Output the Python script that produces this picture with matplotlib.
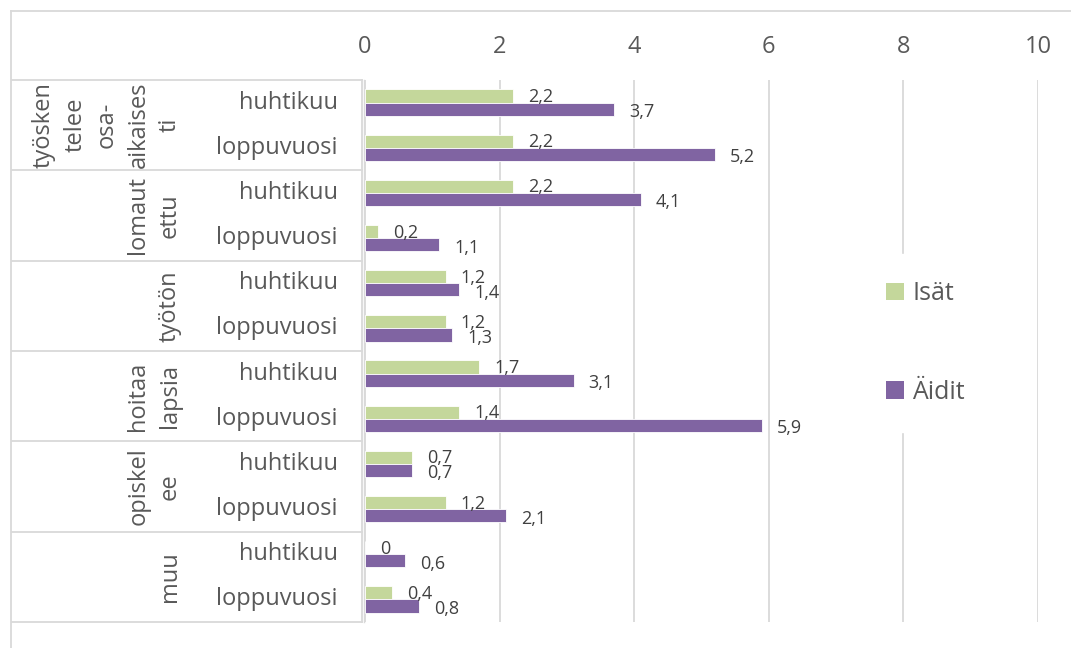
import matplotlib
matplotlib.use("Agg")
import matplotlib.pyplot as plt
from matplotlib.lines import Line2D
from matplotlib.patches import Patch
from matplotlib.transforms import blended_transform_factory

# data
groups = ["työsken\ntelee\nosa-\naikaises\nti", "lomaut\nettu", "työtön",
          "hoitaa\nlapsia", "opiskel\nee", "muu"]
periods = ["huhtikuu", "loppuvuosi"]
isat = [2.2, 2.2, 2.2, 0.2, 1.2, 1.2, 1.7, 1.4, 0.7, 1.2, 0.0, 0.4]
aidit = [3.7, 5.2, 4.1, 1.1, 1.4, 1.3, 3.1, 5.9, 0.7, 2.1, 0.6, 0.8]
series_names = ["Isät", "Äidit"]
xticks = [0, 2, 4, 6, 8, 10]

GREEN = "#c4d79b"
PURPLE = "#8064a2"
GRID = "#d9d9d9"
TXT = "#595959"

plt.rcParams["font.family"] = ["Open Sans", "DejaVu Sans"]

W, H = 1071, 648
fig = plt.figure(figsize=(W / 100, H / 100), dpi=100)
ax = fig.add_axes([365 / W, 1 - 622 / H, 673 / W, 542 / H])

n = len(isat)
bh = 0.29
ys = list(range(n))
ax.barh([y - bh / 2 for y in ys], isat, height=bh, color=GREEN,
        edgecolor="white", linewidth=0.6, label=series_names[0], zorder=3)
ax.barh([y + bh / 2 for y in ys], aidit, height=bh, color=PURPLE,
        edgecolor="white", linewidth=0.6, label=series_names[1], zorder=3)


def fmt(v):
    return f"{v:g}".replace(".", ",")


for y, v in zip(ys, isat):
    ax.annotate(fmt(v), (v, y - bh / 2), xytext=(15, -1), textcoords="offset pixels",
                ha="left", va="center", fontsize=13, color="#404040", zorder=4)
for y, v in zip(ys, aidit):
    ax.annotate(fmt(v), (v, y + bh / 2), xytext=(15, -3), textcoords="offset pixels",
                ha="left", va="center", fontsize=13, color="#404040", zorder=4)

ax.set_xlim(0, 10)
ax.set_ylim(n - 0.5, -0.5)
ax.set_xticks(xticks)
ax.set_xticklabels([str(t) for t in xticks])
ax.xaxis.tick_top()
ax.tick_params(axis="x", length=0, pad=15, labelsize=17, labelcolor=TXT)
ax.set_yticks([])
ax.grid(axis="x", color=GRID, linewidth=1.3, zorder=0)
for s in ax.spines.values():
    s.set_visible(False)

# category table on the left
tr = blended_transform_factory(ax.transAxes, ax.transData)
xl = (12 - 365) / 673
xr = (362 - 365) / 673
for b in range(0, n + 1, 2):
    ax.plot([xl, xr], [b - 0.5, b - 0.5], color=GRID, lw=1.3,
            transform=tr, clip_on=False)
ax.plot([xr, xr], [-0.5, n - 0.5], color=GRID, lw=1.3, transform=tr, clip_on=False)
ax.plot([(364 - 365) / 673] * 2, [-0.5, n - 0.5], color=GRID, lw=1.0,
        transform=tr, clip_on=False)

for i, y in enumerate(ys):
    ax.text((338 - 365) / 673, y, periods[i % 2], transform=tr, ha="right",
            va="center", fontsize=17, color=TXT)

for g, name in enumerate(groups):
    ax.text((182 - 365) / 673, 2 * g + 0.5, name, transform=tr, rotation=90,
            ha="right", va="center", multialignment="center", fontsize=17,
            color=TXT, linespacing=1.42)

# chart outer border
fig.add_artist(Line2D([11 / W, 1], [1 - 11 / H, 1 - 11 / H], color=GRID, lw=1.3))
fig.add_artist(Line2D([11 / W, 11 / W], [0, 1 - 11 / H], color=GRID, lw=1.3))

handles = [Patch(facecolor=GREEN), Patch(facecolor=PURPLE)]
leg = fig.legend(handles, series_names, loc="center left",
                 bbox_to_anchor=(846 / W, 1 - 343 / H), frameon=True,
                 fontsize=18, labelspacing=2.95, handlelength=0.7,
                 handleheight=0.7, handletextpad=0.35, borderpad=1.1)
leg.get_frame().set_edgecolor("white")
leg.get_frame().set_facecolor("white")
leg.get_frame().set_alpha(1)
for t in leg.get_texts():
    t.set_color(TXT)

fig.savefig("out.png", dpi=100)
